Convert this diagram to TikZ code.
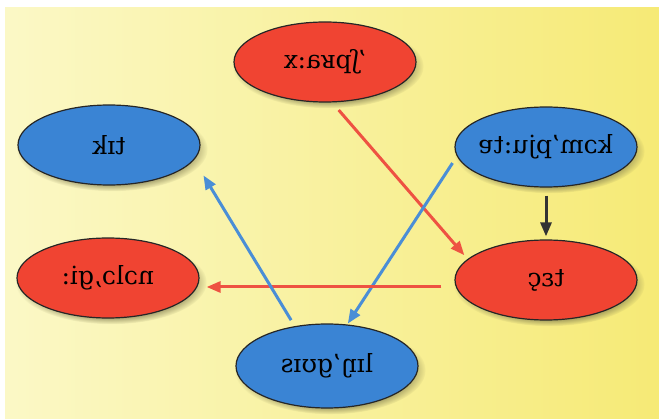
\documentclass[tikz,border=0pt]{standalone}
\usepackage{graphicx}
\usepackage{fontspec}
\setmainfont{DejaVu Serif}
\usepackage{tikz}
\usetikzlibrary{positioning}
\usetikzlibrary{shapes.geometric}
\usetikzlibrary{arrows.meta}
\usetikzlibrary{shadows}
\definecolor{wordred}{RGB}{240,68,50}
\definecolor{wordblue}{RGB}{58,132,212}
\definecolor{linkred}{RGB}{238,82,66}
\definecolor{linkblue}{RGB}{74,142,214}
\definecolor{bgpale}{RGB}{251,248,198}
\definecolor{bgyellow}{RGB}{246,234,118}
\tikzset{word/.style={ellipse, draw=black!85, line width=1.2pt, minimum width=182pt, minimum height=80pt, inner sep=0pt, font=\fontsize{25}{28}\selectfont, circular drop shadow={shadow xshift=3pt, shadow yshift=-4pt, shadow scale=1.05, fill=black!60!yellow, opacity=.6}}}
\tikzset{redword/.style={word, fill=wordred}}
\tikzset{blueword/.style={word, fill=wordblue}}
\tikzset{link/.style={line width=3pt, -{Triangle[length=14pt,width=11pt]}}}
\newcommand{\flip}[1]{\makebox[110pt]{\reflectbox{#1}}}

\begin{document}
\begin{tikzpicture}[x=1pt,y=-1pt]
\useasboundingbox (0,0) rectangle (659,419);
\shade[left color=bgpale, right color=bgyellow] (5,8) rectangle (659,419);
%\shade[inner color=bgpale, outer color=bgyellow] (5,8) rectangle (659,419);
\node[redword] (sprach) at (325,62) {\flip{'ʃpʁa:x}};
\node[blueword] (comp) at (546,147) {\flip{kɔm'pju:tɐ}};
\node[redword] (tec) at (546,280) {\flip{tɛç}};
\node[blueword, minimum height=84pt] (lingu) at (327,366) {\flip{lɪŋ'gʊɪs}};
\node[blueword] (tik) at (109,145) {\flip{tɪk}};
\node[redword] (nolo) at (108,278) {\flip{nɔlɔ,gi:}};
\draw[link, linkred, shorten <=10pt, shorten >=5pt] (sprach.-80) -- (tec.165);
\draw[link, linkblue, shorten <=8pt, shorten >=1pt] (comp.186) -- (lingu.64);
\draw[link, linkred, shorten <=13pt, shorten >=7pt] ([yshift=-7pt]tec.west) -- ([yshift=-7pt]tec.west -| nolo.east);
\draw[link, linkblue, shorten <=7pt, shorten >=18pt] (lingu.129) -- (tik.-10);
\draw[link, black!80, shorten <=8pt, shorten >=3pt] (comp.south) -- (tec.north);
\end{tikzpicture}
\end{document}
